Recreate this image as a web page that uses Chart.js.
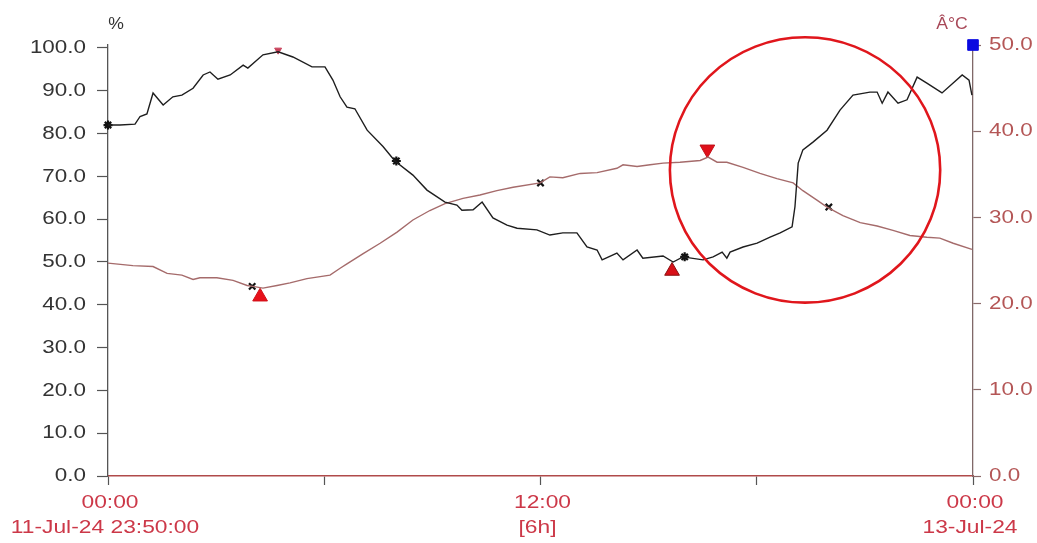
<!DOCTYPE html>
<html><head><meta charset="utf-8">
<script src="https://cdn.jsdelivr.net/npm/chart.js@4.4.1/dist/chart.umd.min.js"></script>
<style>html,body{margin:0;padding:0;background:#fff;overflow:hidden}</style>
</head><body>
<canvas id="c" width="1037" height="543" style="display:block"></canvas>
<script>
// ---- data (x in hours from 00:00) ----
const humHours = [0,0.33,0.75,0.89,1.08,1.25,1.53,1.80,2.05,2.36,2.64,2.83,3.05,3.39,3.75,3.88,4.30,4.72,5.13,5.66,6.02,6.24,6.44,6.63,6.85,7.19,7.63,7.96,8.46,8.85,9.35,9.68,9.82,10.13,10.38,10.68,11.07,11.35,11.90,12.26,12.62,13.01,13.29,13.57,13.71,14.12,14.29,14.68,14.84,15.40,15.68,15.95,16.51,16.79,17.04,17.17,17.26,17.62,18.01,18.37,18.65,18.98,19.06,19.15,19.28,19.56,19.95,20.31,20.67,21.14,21.34,21.48,21.64,21.92,22.17,22.45,22.72,23.14,23.45,23.70,23.89,23.97];
const humValues = [82.0,82.0,82.2,84.0,84.6,89.5,86.7,88.6,89.0,90.6,93.7,94.4,92.7,93.7,96.0,95.3,98.4,99.1,97.9,95.6,95.6,92.5,88.6,86.2,85.8,80.8,77.0,73.6,70.3,66.8,64.0,63.3,62.1,62.2,64.0,60.3,58.6,57.9,57.5,56.3,56.8,56.8,53.5,52.8,50.5,52.1,50.5,52.8,50.9,51.4,50.0,51.2,50.5,51.2,52.3,50.9,52.3,53.5,54.4,55.8,56.8,58.2,62.9,73.1,76.2,78.0,80.8,85.5,89.0,89.7,89.7,87.1,89.7,87.1,87.9,93.2,91.8,89.5,91.8,93.7,92.5,89.0];
const tempHours = [0,0.69,1.25,1.64,2.05,2.36,2.55,3.02,3.47,3.86,4.02,4.30,4.69,5.05,5.52,6.16,6.44,6.63,7.08,7.55,8.02,8.46,8.93,9.35,9.85,10.32,10.79,11.24,11.99,12.26,12.62,13.10,13.57,14.12,14.29,14.68,15.04,15.40,15.87,16.43,16.65,16.90,17.17,17.62,18.09,18.56,19.01,19.28,19.67,19.95,20.39,20.87,21.34,21.78,22.25,22.72,23.08,23.45,23.97];
const tempValues = [24.7,24.4,24.3,23.5,23.3,22.8,23.0,23.0,22.7,22.1,22.0,21.8,22.1,22.4,22.9,23.3,24.1,24.6,25.8,27.0,28.3,29.7,30.8,31.6,32.2,32.6,33.1,33.5,34.0,34.7,34.6,35.1,35.2,35.7,36.1,35.9,36.1,36.3,36.4,36.6,37.0,36.4,36.4,35.8,35.1,34.5,34.0,33.1,32.0,31.2,30.2,29.4,29.0,28.5,27.9,27.7,27.6,27.0,26.3];

const humMarkHours = [0,8,16];
const humMarkValues = [82.0,73.6,51.2];
const tempMarkHours = [4,12,20];
const tempMarkValues = [22.0,34.0,31.2];

const humMaxHours = [4.72];   const humMaxValues = [99.5];
const humMinHours = [15.65];  const humMinValues = [47.9];
const tempMaxHours = [16.63]; const tempMaxValues = [37.9];
const tempMinHours = [4.22];  const tempMinValues = [20.8];
const endMarkHours = [24];    const endMarkValues = [50.0];

const leftTicks = [0,10,20,30,40,50,60,70,80,90,100];
const rightTicks = [0,10,20,30,40,50];
const xTicks = [0,6,12,18,24];
const xLabelTop = ['00:00','','12:00','','00:00'];
const xLabelBottom = ['11-Jul-24 23:50:00','','[6h]','','13-Jul-24'];
const leftUnit = '%';
const rightUnit = 'Â°C';

// annotation circle (in data units: hours / % axis)
const circleCenterHour = 19.34, circleCenterPct = 71.5;
const circleRadiusHours = 3.75, circleRadiusPct = 31.0;

const pts = (xs, ys) => xs.map((x,i)=>({x:x, y:ys[i]}));

function sText(ctx, text, x, y, align, sx){
  ctx.save(); ctx.translate(x,y); ctx.scale(sx,1); ctx.textAlign=align; ctx.fillText(text,0,0); ctx.restore();
}

const labelPlugin = {
  id:'labels',
  afterDraw(chart){
    const ctx = chart.ctx, a = chart.chartArea;
    const sy = chart.scales.y, sy2 = chart.scales.y2, sx = chart.scales.x;
    ctx.save();
    ctx.textBaseline = 'middle';
    ctx.font = '19px "Liberation Sans", Arial, sans-serif';
    ctx.fillStyle = '#333333';
    leftTicks.forEach(v => sText(ctx, v.toFixed(1), a.left - 22, sy.getPixelForValue(v), 'right', 1.18));
    ctx.fillStyle = '#b45656';
    rightTicks.forEach(v => sText(ctx, v.toFixed(1), a.right + 16, sy2.getPixelForValue(v), 'left', 1.18));
    ctx.fillStyle = '#cc3848';
    xTicks.forEach((v,i) => {
      const px = sx.getPixelForValue(v);
      if (xLabelTop[i]) sText(ctx, xLabelTop[i], px + 2, a.bottom + 27, 'center', 1.2);
      if (xLabelBottom[i]) sText(ctx, xLabelBottom[i], px - 3, a.bottom + 52, 'center', 1.2);
    });
    ctx.font = '16px "Liberation Sans", Arial, sans-serif';
    ctx.fillStyle = '#333';
    sText(ctx, leftUnit, a.left + 8, 25, 'center', 1.1);
    ctx.fillStyle = '#a84858';
    sText(ctx, rightUnit, a.right - 21, 25, 'center', 1.1);
    // circle annotation
    const cx = sx.getPixelForValue(circleCenterHour), cy = sy.getPixelForValue(circleCenterPct);
    const rx = sx.getPixelForValue(circleCenterHour + circleRadiusHours) - cx;
    const ry = cy - sy.getPixelForValue(circleCenterPct + circleRadiusPct);
    ctx.beginPath(); ctx.ellipse(cx, cy, rx, ry, 0, 0, Math.PI*2);
    ctx.strokeStyle = '#e0161c'; ctx.lineWidth = 2.6; ctx.stroke();
    ctx.restore();
  }
};

const axisGrid = (color, len) => ({display:true, drawOnChartArea:false, drawTicks:true, tickLength:len, tickWidth:1.2, color:color});

new Chart(document.getElementById('c'), {
  type:'line',
  data:{datasets:[
    {data:pts(humHours,humValues), yAxisID:'y', borderColor:'#1e1e1e', borderWidth:1.4, pointRadius:0, tension:0},
    {data:pts(tempHours,tempValues), yAxisID:'y2', borderColor:'#a56b6b', borderWidth:1.4, pointRadius:0, tension:0},
    {data:pts(humMarkHours,humMarkValues), yAxisID:'y', showLine:false, pointStyle:'star', pointRadius:4.5, borderColor:'#111', borderWidth:2.2, clip:false},
    {data:pts(tempMarkHours,tempMarkValues), yAxisID:'y2', showLine:false, pointStyle:'crossRot', pointRadius:4.5, borderColor:'#111', borderWidth:2.2},
    {data:pts(humMaxHours,humMaxValues), yAxisID:'y', showLine:false, pointStyle:'triangle', rotation:180, pointRadius:4, backgroundColor:'#c8405a', borderColor:'#c8405a', borderWidth:1, clip:false},
    {data:pts(humMinHours,humMinValues), yAxisID:'y', showLine:false, pointStyle:'triangle', pointRadius:8.5, backgroundColor:'#d81018', borderColor:'#8a1010', borderWidth:1},
    {data:pts(tempMaxHours,tempMaxValues), yAxisID:'y2', showLine:false, pointStyle:'triangle', rotation:180, pointRadius:8.5, backgroundColor:'#e0101a', borderColor:'#c01018', borderWidth:1},
    {data:pts(tempMinHours,tempMinValues), yAxisID:'y2', showLine:false, pointStyle:'triangle', pointRadius:8.5, backgroundColor:'#e8101a', borderColor:'#d01018', borderWidth:1},
    {data:pts(endMarkHours,endMarkValues), yAxisID:'y2', showLine:false, pointStyle:'rect', pointRadius:7.5, backgroundColor:'#0a0ae0', borderColor:'#0a0ae0', borderWidth:1, clip:false}
  ]},
  options:{
    responsive:false, animation:false, devicePixelRatio:1,
    layout:{padding:{top:45,left:0,right:0,bottom:0}, autoPadding:false},
    plugins:{legend:{display:false}, tooltip:{enabled:false}},
    scales:{
      x:{type:'linear', position:'bottom', min:0, max:24,
         afterBuildTicks:s=>{s.ticks = xTicks.map(v=>({value:v}));},
         ticks:{display:false},
         grid:axisGrid('#555',9),
         border:{display:true, color:'#b04a4a', width:1.5},
         afterFit:s=>{s.height = 67;}},
      y:{type:'linear', position:'left', min:0, max:100.7,
         afterBuildTicks:s=>{s.ticks = leftTicks.map(v=>({value:v}));},
         ticks:{display:false},
         grid:axisGrid('#555',11),
         border:{display:true, color:'#555', width:1.3},
         afterFit:s=>{s.width = 108;}},
      y2:{type:'linear', position:'right', min:0, max:50,
         afterBuildTicks:s=>{s.ticks = rightTicks.map(v=>({value:v}));},
         ticks:{display:false},
         grid:axisGrid('#8a6a6a',8),
         border:{display:true, color:'#806868', width:1.3},
         afterFit:s=>{s.width = 64;}}
    }
  },
  plugins:[labelPlugin]
});
</script>
</body></html>
